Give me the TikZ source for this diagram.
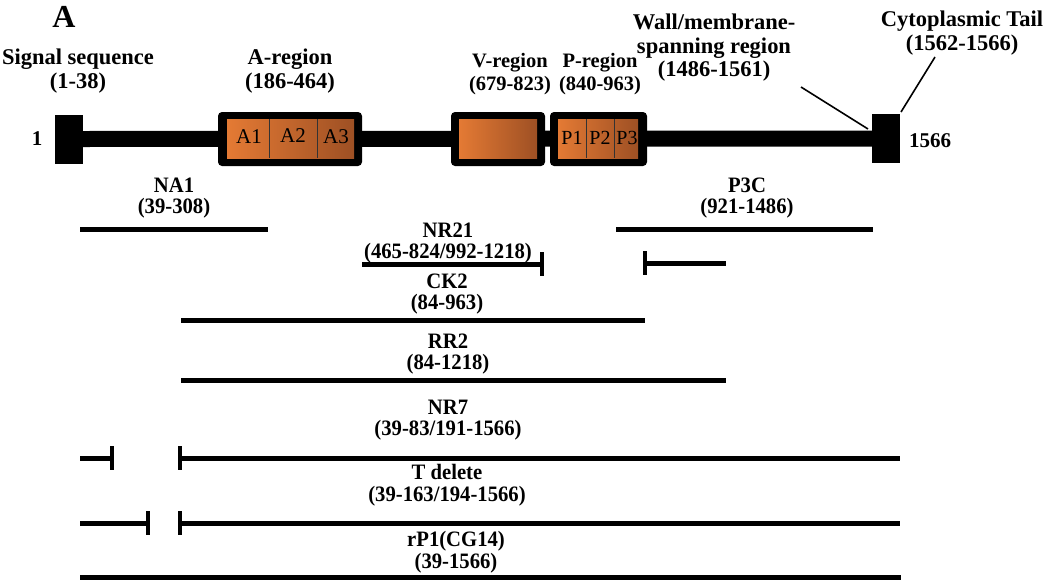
\documentclass[tikz,border=0pt]{standalone}
\usepackage{fontspec}
\setmainfont{Liberation Serif}
\newfontfamily\condfont[FakeStretch=0.94]{Liberation Serif}
\definecolor{orL}{RGB}{228,122,52}
\definecolor{orR}{RGB}{158,80,36}
\begin{document}
\begin{tikzpicture}[x=1pt,y=-1pt,
  toplab/.style={font=\fontsize{22.5}{23.5}\selectfont\bfseries, align=center, inner sep=0pt},
  lowlab/.style={font=\condfont\fontsize{22}{21.5}\selectfont\bfseries, align=center, inner sep=0pt},
  frag/.style={line width=5pt},
  tickmark/.style={line width=4pt},
  blk/.style={fill=black, draw=none, minimum width=28pt, minimum height=49pt, inner sep=0pt},
  obox/.style={fill=black, draw=none, rounded corners=4pt, inner sep=0pt, minimum height=54pt},
  ibox/.style={left color=orL, right color=orR, draw=none, inner sep=0pt, minimum height=39pt},
  sub/.style={font=\fontsize{21}{22}\selectfont, inner sep=0pt},
  divline/.style={line width=0.6pt, black!80}
]
\useasboundingbox (0,0) rectangle (1050,587);

% title
\node[font=\fontsize{32}{32}\selectfont\bfseries, inner sep=0pt] (ttl) at (64,17) {A};

% top labels
\node[toplab] (sig) at (78,71) {Signal sequence\\(1-38)};
\node[toplab] (areg) at (290,71) {A-region\\(186-464)};
\node[toplab, font=\fontsize{20.5}{23.5}\selectfont\bfseries] (vreg) at (510,74) {V-region\\(679-823)};
\node[toplab, font=\fontsize{20.5}{23.5}\selectfont\bfseries] (preg) at (600,74) {P-region\\(840-963)};
\node[toplab] (wall) at (714,48) {Wall/membrane-\\spanning region\\(1486-1561)};
\node[toplab] (cyto) at (962,33) {Cytoplasmic Tail\\(1562-1566)};

% backbone
\node[blk] (lb) at (68.5,139) {};
\node[blk] (rb) at (886,138.5) {};
\draw[line width=16pt] (lb.east) -- (rb.west);
\node[font=\fontsize{21}{22}\selectfont\bfseries, inner sep=0pt] (one) at (37,139) {1};
\node[font=\fontsize{21}{22}\selectfont\bfseries, inner sep=0pt] (end) at (930,141) {1566};

% A region
\node[obox, minimum width=144pt] (abox) at (290,139) {};
\node[ibox, minimum width=127pt] (ain) at (290.5,138.5) {};
\draw[divline] (269,119) -- (269,158);
\draw[divline] (317,119) -- (317,158);
\node[sub] (a1) at (249,137) {A1};
\node[sub] (a2) at (293,136) {A2};
\node[sub] (a3) at (336,137) {A3};

% V region
\node[obox, minimum width=94pt] (vbox) at (498,139) {};
\node[ibox, minimum width=78pt] (vin) at (498,138.5) {};

% P region
\node[obox, minimum width=97pt] (pbox) at (598.5,139) {};
\node[ibox, minimum width=80pt] (pin) at (598,138.5) {};
\draw[divline] (586,119) -- (586,158);
\draw[divline] (614,119) -- (614,158);
\node[sub, font=\fontsize{20}{22}\selectfont] (p1) at (572,138) {P1};
\node[sub, font=\fontsize{20}{22}\selectfont] (p2) at (600,138) {P2};
\node[sub, font=\fontsize{20}{22}\selectfont] (p3) at (627,138) {P3};

% leader lines
\coordinate (wl1) at (801,87); \coordinate (wl2) at (868,129);
\draw[line width=1.6pt] (wl1) -- (wl2);
\coordinate (cl1) at (935,57); \coordinate (cl2) at (901,112);
\draw[line width=1.6pt] (cl1) -- (cl2);

% NA1
\node[lowlab] (na1) at (174,198) {NA1\\(39-308)};
\coordinate (na1a) at (80,229); \coordinate (na1b) at (268,229);
\draw[frag] (na1a) -- (na1b);

% P3C
\node[lowlab] (p3c) at (747,198) {P3C\\(921-1486)};
\coordinate (p3ca) at (616,229); \coordinate (p3cb) at (873,229);
\draw[frag] (p3ca) -- (p3cb);

% NR21
\node[lowlab] (nr21) at (448,243) {NR21\\(465-824/992-1218)};
\coordinate (nr21a) at (362,264); \coordinate (nr21b) at (542,264);
\draw[frag] (nr21a) -- (nr21b);
\draw[tickmark] ([yshift=12pt]nr21b) -- ([yshift=-12pt]nr21b);
\coordinate (nr21c) at (645,263); \coordinate (nr21d) at (726,263);
\draw[frag] (nr21c) -- (nr21d);
\draw[tickmark] ([yshift=12pt]nr21c) -- ([yshift=-12pt]nr21c);

% CK2
\node[lowlab] (ck2) at (447,294) {CK2\\(84-963)};
\coordinate (ck2a) at (181,320); \coordinate (ck2b) at (645,320);
\draw[frag] (ck2a) -- (ck2b);

% RR2
\node[lowlab] (rr2) at (448,354) {RR2\\(84-1218)};
\coordinate (rr2a) at (181,380); \coordinate (rr2b) at (726,380);
\draw[frag] (rr2a) -- (rr2b);

% NR7
\node[lowlab] (nr7) at (448,420) {NR7\\(39-83/191-1566)};
\coordinate (nr7a) at (80,458); \coordinate (nr7b) at (112,458);
\coordinate (nr7c) at (180,458); \coordinate (nr7d) at (900,458);
\draw[frag] (nr7a) -- (nr7b);
\draw[tickmark] ([yshift=12pt]nr7b) -- ([yshift=-12pt]nr7b);
\draw[frag] (nr7c) -- (nr7d);
\draw[tickmark] ([yshift=12pt]nr7c) -- ([yshift=-12pt]nr7c);

% T delete
\node[lowlab] (td) at (447,485) {T delete\\(39-163/194-1566)};
\coordinate (tda) at (80,523); \coordinate (tdb) at (148,523);
\coordinate (tdc) at (180,523); \coordinate (tdd) at (900,523);
\draw[frag] (tda) -- (tdb);
\draw[tickmark] ([yshift=12pt]tdb) -- ([yshift=-12pt]tdb);
\draw[frag] (tdc) -- (tdd);
\draw[tickmark] ([yshift=12pt]tdc) -- ([yshift=-12pt]tdc);

% rP1
\node[lowlab] (rp1) at (456,552) {rP1(CG14)\\(39-1566)};
\coordinate (rp1a) at (80,577); \coordinate (rp1b) at (901,577);
\draw[frag] (rp1a) -- (rp1b);
\end{tikzpicture}
\end{document}
